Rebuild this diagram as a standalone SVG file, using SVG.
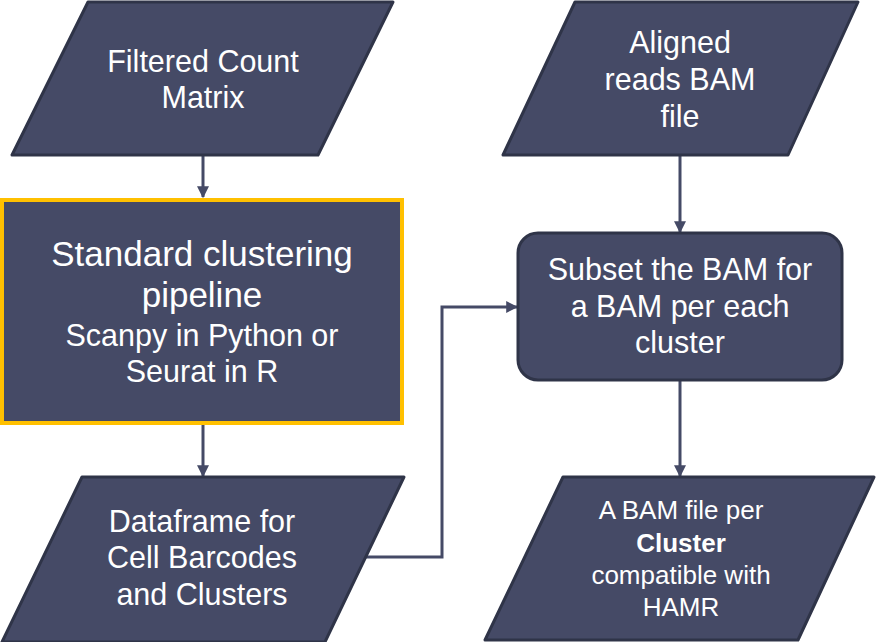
<svg xmlns="http://www.w3.org/2000/svg" width="876" height="642" viewBox="0 0 876 642">
<style>
.shape{fill:#454a66;stroke:#2f3448;stroke-width:3;stroke-linejoin:round}
.hl{fill:#454a66;stroke:#ffc000;stroke-width:4}
.t{font-family:"Liberation Sans",Arial,sans-serif;fill:#ffffff;text-anchor:middle}
.f30{font-size:30.5px}
.f26{font-size:26px}
.f34{font-size:35px}
.conn{fill:none;stroke:#454a66;stroke-width:3}
</style>
<defs>
<marker id="ah" viewBox="0 0 10 10" refX="9" refY="5" markerWidth="4" markerHeight="4" orient="auto" markerUnits="strokeWidth">
<path d="M0,0 L10,5 L0,10 z" fill="#454a66"/>
</marker>
</defs>
<rect width="876" height="642" fill="#ffffff"/>
<g id="connectors">
<path class="conn" d="M203,155 V197" marker-end="url(#ah)"/>
<path class="conn" d="M203,425 V476" marker-end="url(#ah)"/>
<path class="conn" d="M680,155 V232" marker-end="url(#ah)"/>
<path class="conn" d="M680,380 V476" marker-end="url(#ah)"/>
<path class="conn" d="M364,557 H442 V307 H517" marker-end="url(#ah)"/>
</g>
<g id="filtered">
<polygon class="shape" points="88,2 393,2 318,155 12,155"/>
<text class="t f30" x="203" y="72">Filtered Count</text>
<text class="t f30" x="203" y="108">Matrix</text>
</g>
<g id="standard">
<rect class="hl" x="2" y="200" width="400" height="223"/>
<text class="t f34" x="202" y="266">Standard clustering</text>
<text class="t f34" x="202" y="307">pipeline</text>
<text class="t f30" x="202" y="346">Scanpy in Python or</text>
<text class="t f30" x="202" y="382">Seurat in R</text>
</g>
<g id="dataframe">
<polygon class="shape" points="82,477 404,477 325,642 2,642"/>
<text class="t f30" x="202" y="532">Dataframe for</text>
<text class="t f30" x="202" y="568">Cell Barcodes</text>
<text class="t f30" x="202" y="605">and Clusters</text>
</g>
<g id="aligned">
<polygon class="shape" points="575,2 858,2 788,155 503,155"/>
<text class="t f30" x="680" y="53">Aligned</text>
<text class="t f30" x="680" y="90">reads BAM</text>
<text class="t f30" x="680" y="127">file</text>
</g>
<g id="subset">
<rect class="shape" x="518" y="233" width="324" height="147" rx="20" ry="20"/>
<text class="t f30" x="680" y="280">Subset the BAM for</text>
<text class="t f30" x="680" y="317">a BAM per each</text>
<text class="t f30" x="680" y="353">cluster</text>
</g>
<g id="bamcluster">
<polygon class="shape" points="563,477 874,477 798,640 485,640"/>
<text class="t f26" x="681" y="519">A BAM file per</text>
<text class="t f26" x="681" y="552" font-weight="bold">Cluster</text>
<text class="t f26" x="681" y="584">compatible with</text>
<text class="t f26" x="681" y="616">HAMR</text>
</g>
</svg>
